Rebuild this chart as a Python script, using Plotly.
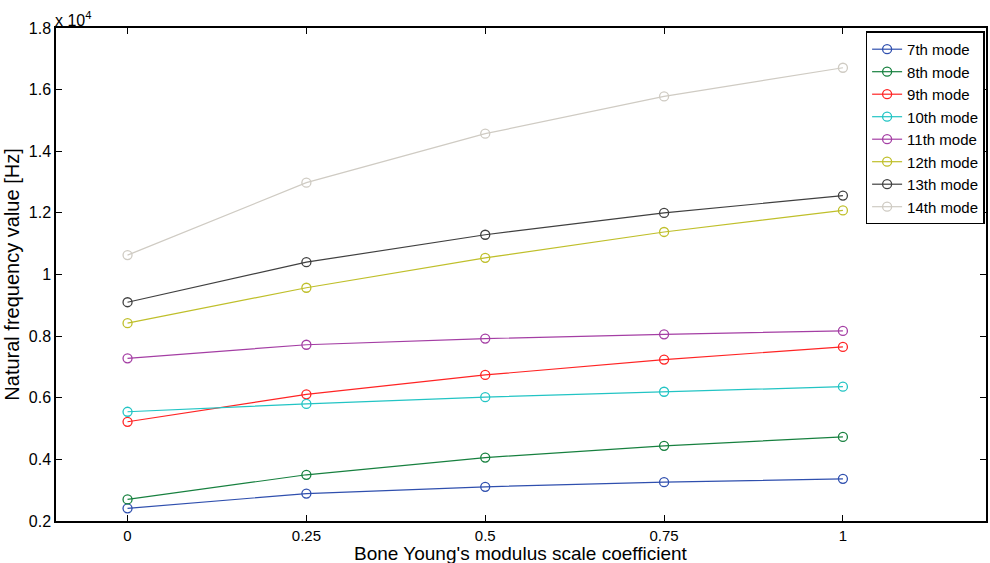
import plotly.graph_objects as go

# Bone Young's modulus scale coefficient
scale = [0, 0.25, 0.5, 0.75, 1]

# Natural frequencies [Hz] for modes 7-14
mode7 = [2410, 2890, 3110, 3260, 3370]
mode8 = [2700, 3500, 4060, 4440, 4730]
mode9 = [5220, 6110, 6740, 7240, 7650]
mode10 = [5545, 5800, 6020, 6195, 6360]
mode11 = [7280, 7720, 7920, 8060, 8170]
mode12 = [8420, 9570, 10540, 11380, 12080]
mode13 = [9100, 10400, 11290, 12000, 12560]
mode14 = [10630, 12980, 14570, 15780, 16710]

names = ["7th mode", "8th mode", "9th mode", "10th mode",
         "11th mode", "12th mode", "13th mode", "14th mode"]
colors = ["#2f4fae", "#17803f", "#ff2424", "#22c4c4",
          "#a43ea4", "#bfbf2a", "#404040", "#cfcbc3"]
series = [mode7, mode8, mode9, mode10, mode11, mode12, mode13, mode14]

x_ticks = [0, 0.25, 0.5, 0.75, 1]
x_ticktext = ["0", "0.25", "0.5", "0.75", "1"]
y_ticks = [2000, 4000, 6000, 8000, 10000, 12000, 14000, 16000, 18000]
y_ticktext = ["0.2", "0.4", "0.6", "0.8", "1", "1.2", "1.4", "1.6", "1.8"]

FONT = "Liberation Sans, Arial, sans-serif"

fig = go.Figure()
for name, color, vals in zip(names, colors, series):
    fig.add_trace(go.Scatter(
        x=scale, y=vals, name=name, mode="lines+markers",
        line=dict(color=color, width=1.2),
        marker=dict(symbol="circle-open", size=9, color=color,
                    line=dict(width=1.3, color=color)),
    ))

axis_common = dict(
    showline=True, linecolor="black", linewidth=1.5, mirror="ticks",
    ticks="inside", ticklen=6, tickwidth=1, tickcolor="black",
    showgrid=False, zeroline=False,
)

fig.update_xaxes(
    range=[-0.1, 1.2], tickvals=x_ticks, ticktext=x_ticktext,
    tickfont=dict(family=FONT, size=15, color="black"),
    **axis_common,
)
fig.update_yaxes(
    range=[2000, 18000], tickvals=y_ticks, ticktext=y_ticktext,
    tickfont=dict(family=FONT, size=16, color="black"),
    title=dict(text="Natural frequency value [Hz]",
               font=dict(family=FONT, size=20, color="black"), standoff=4),
    **axis_common,
)

# x-axis title placed just under the tick labels
fig.add_annotation(
    text="Bone Young's modulus scale coefficient", xref="paper", yref="paper",
    x=0.5, y=0.0, xanchor="center", yanchor="middle", yshift=-32,
    showarrow=False, font=dict(family=FONT, size=19, color="black"),
)

# common exponent of the y-axis
fig.add_annotation(
    text="x 10<sup>4</sup>", xref="paper", yref="paper",
    x=0.0, y=1.0, xanchor="left", yanchor="bottom", showarrow=False,
    font=dict(family=FONT, size=16, color="black"), xshift=-3, yshift=-3,
)

fig.update_layout(
    width=990, height=563,
    margin=dict(l=56, r=2, t=28, b=42),
    plot_bgcolor="white", paper_bgcolor="white",
    font=dict(family=FONT, color="black"),
    legend=dict(
        x=0.9985, y=0.993, xanchor="right", yanchor="top",
        bgcolor="white", bordercolor="black", borderwidth=1.5,
        font=dict(family=FONT, size=15, color="black"),
        tracegroupgap=0, itemwidth=30,
    ),
)

fig.write_html("out.html")
